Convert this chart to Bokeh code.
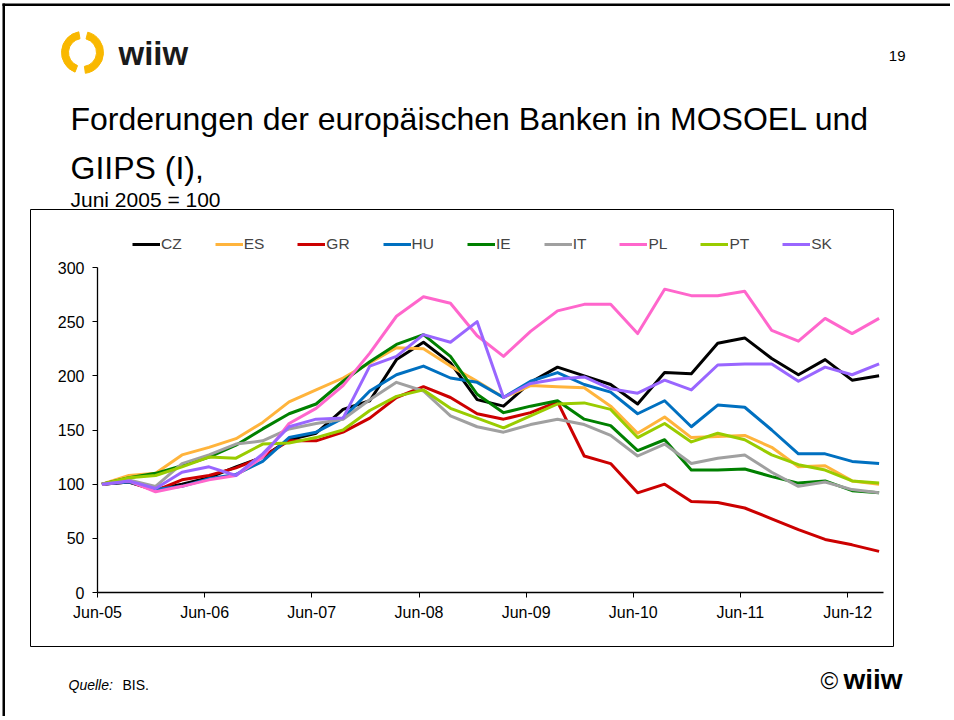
import pandas as pd
from bokeh.plotting import figure
from bokeh.models import (Range1d, Label, BoxAnnotation, Legend, LegendItem,
                          FixedTicker, DatetimeTickFormatter, LinearAxis, DatetimeAxis)
from bokeh.embed import file_html
from bokeh.resources import INLINE

# ---------------- data (index, June 2005 = 100) ----------------
quarters = ["2005-06", "2005-09", "2005-12", "2006-03", "2006-06", "2006-09",
            "2006-12", "2007-03", "2007-06", "2007-09", "2007-12", "2008-03",
            "2008-06", "2008-09", "2008-12", "2009-03", "2009-06", "2009-09",
            "2009-12", "2010-03", "2010-06", "2010-09", "2010-12", "2011-03",
            "2011-06", "2011-09", "2011-12", "2012-03", "2012-06", "2012-09"]

CZ = [100, 102, 95, 100, 106, 116, 125, 141, 147, 169, 177, 215, 231, 212, 178,
      172, 194, 208, 200, 192, 174, 203, 202, 230, 235, 216, 201, 215, 196, 200]
ES = [100, 108, 110, 127, 134, 142, 157, 176, 187, 198, 212, 226, 225, 209, 195,
      180, 191, 190, 189, 172, 147, 162, 143, 144, 145, 134, 116, 117, 103, 100]
GR = [100, 102, 94, 104, 108, 115, 125, 140, 140, 148, 161, 180, 190, 180, 165,
      160, 166, 176, 126, 119, 92, 100, 84, 83, 78, 68, 58, 49, 44, 38]
HU = [100, 102, 95, 98, 105, 109, 121, 143, 148, 161, 186, 201, 209, 198, 194,
      180, 195, 203, 192, 185, 165, 177, 153, 173, 171, 150, 128, 128, 121, 119]
IE = [100, 106, 110, 117, 125, 136, 151, 165, 174, 195, 213, 229, 238, 218, 183,
      166, 172, 177, 160, 154, 131, 141, 113, 113, 114, 107, 101, 103, 94, 92]
IT = [100, 104, 98, 119, 127, 137, 140, 151, 156, 160, 178, 194, 186, 163, 153,
      148, 155, 160, 155, 145, 126, 137, 119, 124, 127, 111, 98, 102, 95, 92]
PL = [100, 103, 93, 98, 104, 108, 125, 156, 170, 191, 221, 255, 273, 267, 237,
      218, 241, 260, 266, 266, 239, 280, 274, 274, 278, 242, 232, 253, 239, 253]
PT = [100, 106, 108, 116, 125, 124, 137, 138, 143, 150, 168, 181, 187, 170, 161,
      152, 163, 174, 175, 169, 143, 156, 139, 147, 141, 127, 118, 113, 103, 101]
SK = [100, 103, 96, 111, 116, 108, 128, 153, 160, 161, 209, 218, 238, 231, 250,
      180, 193, 197, 199, 188, 184, 196, 187, 210, 211, 211, 195, 208, 201, 211]

series_names = ["CZ", "ES", "GR", "HU", "IE", "IT", "PL", "PT", "SK"]
series_values = [CZ, ES, GR, HU, IE, IT, PL, PT, SK]
series_colors = ["#000000", "#FFB43C", "#CC0000", "#0070C0", "#008000",
                 "#A0A0A0", "#FF66CC", "#99CC00", "#9966FF"]

tick_dates = ["2005-06-01", "2006-06-01", "2007-06-01", "2008-06-01",
              "2009-06-01", "2010-06-01", "2011-06-01", "2012-06-01"]
tick_labels = ["Jun-05", "Jun-06", "Jun-07", "Jun-08",
               "Jun-09", "Jun-10", "Jun-11", "Jun-12"]
y_ticks = [0, 50, 100, 150, 200, 250, 300]
axis_start, axis_end = "2005-06-01", "2012-10-01"
y_min, y_max = 0, 300

# ---------------- layout geometry (canvas pixels) ----------------
W, H = 950, 716
PX_LEFT, PX_RIGHT = 97, 883      # pixel x of axis start / end
PY_ZERO, PY_TOP = 592, 267       # pixel y of y_min / y_max

t0 = pd.Timestamp(axis_start).value / 1e6
t1 = pd.Timestamp(axis_end).value / 1e6
ms_per_px = (t1 - t0) / (PX_RIGHT - PX_LEFT)
u_per_px = (y_max - y_min) / (PY_ZERO - PY_TOP)


def to_x(px):
    return t0 + (px - PX_LEFT) * ms_per_px


def to_y(py):
    return y_min + (PY_ZERO - py) * u_per_px


# points sit in the middle of their month slot (Excel date axis)
x = pd.to_datetime(quarters) + pd.Timedelta(days=15)

FONT = "Liberation Sans"

p = figure(width=W, height=H, output_backend="svg", toolbar_location=None,
           x_range=Range1d(to_x(0), to_x(W)), y_range=Range1d(to_y(H), to_y(0)),
           x_axis_location=None, y_axis_location=None, min_border=0)
p.title.visible = False
p.outline_line_color = None
p.xgrid.visible = False
p.ygrid.visible = False
p.background_fill_color = "white"
p.border_fill_color = "white"

items = []
for name, vals, col in zip(series_names, series_values, series_colors):
    r = p.line(x, vals, line_color=col, line_width=3, line_join="round")
    items.append(LegendItem(label=name, renderers=[r]))

# axes drawn at fixed positions inside the slide
tick_ms = [pd.Timestamp(d).value / 1e6 for d in tick_dates]
fmt = "%b-%y"
xaxis = DatetimeAxis(
    fixed_location=y_min, bounds=(t0, t1), ticker=FixedTicker(ticks=tick_ms),
    formatter=DatetimeTickFormatter(
        microseconds=fmt, milliseconds=fmt, seconds=fmt, minsec=fmt, minutes=fmt,
        hourmin=fmt, hours=fmt, days=fmt, months=fmt, years=fmt),
    major_label_overrides={t: l for t, l in zip(tick_ms, tick_labels)})
yaxis = LinearAxis(fixed_location=t0, bounds=(y_min, y_max),
                   ticker=FixedTicker(ticks=y_ticks))
p.add_layout(xaxis, "below")
p.add_layout(yaxis, "left")

for ax in (xaxis, yaxis):
    ax.axis_line_color = "black"
    ax.axis_line_width = 1.3
    ax.major_tick_line_color = "black"
    ax.major_tick_in = 0
    ax.major_tick_out = 5
    ax.minor_tick_out = 0
    ax.minor_tick_in = 0
    ax.major_label_text_font = FONT
    ax.major_label_text_font_size = "16px"
    ax.major_label_text_color = "black"
xaxis.major_label_standoff = 6
yaxis.major_label_standoff = 8

legend = Legend(items=items, location=(132, H - 253), orientation="horizontal",
                glyph_width=28, glyph_height=16, label_standoff=1, spacing=33,
                padding=0, margin=0, border_line_alpha=0,
                background_fill_alpha=0, label_text_font=FONT,
                label_text_font_size="15.5px", label_width=10, label_height=16)
p.add_layout(legend)


# --------- slide decorations (screen units, origin bottom-left) ---------
def lab(px, baseline, text, size, **kw):
    """Place a text whose alphabetic baseline should sit at pixel row `baseline`."""
    kw.setdefault("text_font", FONT)
    kw.setdefault("text_color", "black")
    shift = 0.4 * size  # Label's anchor sits ~0.4em above the drawn baseline
    p.add_layout(Label(x=px, y=H - (baseline - shift), x_units="screen",
                       y_units="screen", text=text, text_font_size=f"{size}px",
                       text_baseline="alphabetic", **kw))


def box(l, t, r, b, **kw):
    p.add_layout(BoxAnnotation(left=l, right=r, top=H - t, bottom=H - b,
                               left_units="screen", right_units="screen",
                               top_units="screen", bottom_units="screen", **kw))


# slide border (top and left)
box(2, 3, W, 5.5, fill_color="black", fill_alpha=1, line_alpha=0)
box(2, 3, 4.5, H, fill_color="black", fill_alpha=1, line_alpha=0)
# chart frame box
box(30, 209, 893, 646, fill_alpha=0, line_color="black", line_alpha=1,
    line_width=1)

# logo ring (two arcs)
logo_x, logo_y = to_x(82), to_y(52)
p.annular_wedge(x=[logo_x, logo_x], y=[logo_y, logo_y], inner_radius=14,
                outer_radius=21, inner_radius_units="screen",
                outer_radius_units="screen", start_angle=[1.75, 4.85],
                end_angle=[4.35, 7.6], color="#F9B800")
lab(118, 66, "wiiw", 33, text_color="#1A1A1A", text_font_style="bold")
lab(905, 61.5, "19", 15, text_align="right")

# titles
lab(70, 131.5, "Forderungen der europäischen Banken in MOSOEL und", 32)
lab(70, 180.5, "GIIPS (I),", 32)
lab(70, 207.5, "Juni 2005 = 100", 21)

# footer
lab(68, 690, "Quelle:", 14, text_font_style="italic")
lab(122, 690, "BIS.", 14)
lab(820, 690, "©", 24)
lab(843, 690, "wiiw", 28, text_font_style="bold")

open("out.html", "w").write(file_html(p, INLINE))
